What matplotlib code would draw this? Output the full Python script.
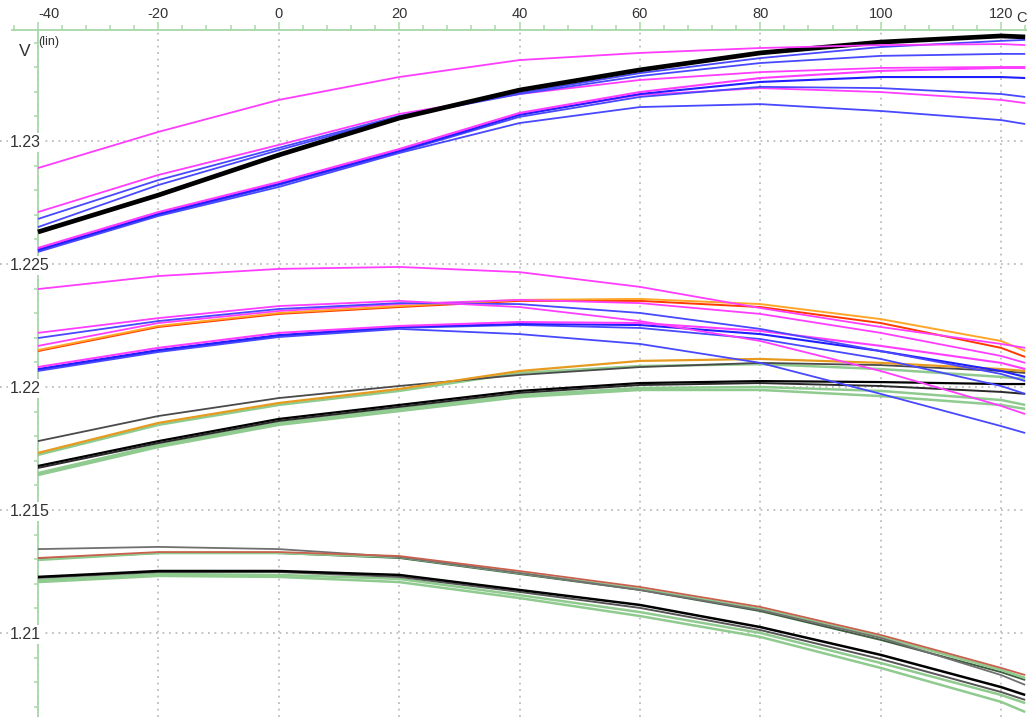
import matplotlib
matplotlib.use("Agg")
import matplotlib.pyplot as plt
from matplotlib.ticker import MultipleLocator, FixedLocator, FixedFormatter

plt.rcParams['font.family'] = ['Liberation Sans', 'DejaVu Sans']

# ---------------- data (temperature in C, voltage in V) ----------------
temps = [-40, -20, 0, 20, 40, 60, 80, 100, 120, 124]

# top group
a_mag_top  = [1.22890, 1.23037, 1.23167, 1.23260, 1.23329, 1.23358, 1.23378, 1.23390, 1.23394, 1.23390]
a_black    = [1.22630, 1.22780, 1.22943, 1.23093, 1.23207, 1.23289, 1.23358, 1.23402, 1.23427, 1.23423]
a_mag_2    = [1.22711, 1.22862, 1.22984, 1.23110, 1.23191, 1.23248, 1.23280, 1.23297, 1.23301, 1.23301]
a_blue_1   = [1.22683, 1.22841, 1.22972, 1.23102, 1.23195, 1.23276, 1.23337, 1.23382, 1.23407, 1.23411]
a_blue_2   = [1.22650, 1.22821, 1.22963, 1.23098, 1.23191, 1.23264, 1.23317, 1.23346, 1.23354, 1.23354]
a_mag_3    = [1.22565, 1.22711, 1.22833, 1.22967, 1.23114, 1.23199, 1.23256, 1.23285, 1.23297, 1.23297]
a_blue_3   = [1.22557, 1.22703, 1.22825, 1.22959, 1.23106, 1.23191, 1.23240, 1.23260, 1.23260, 1.23256]
a_blue_4   = [1.22553, 1.22699, 1.22821, 1.22955, 1.23098, 1.23179, 1.23220, 1.23215, 1.23191, 1.23179]
a_mag_4    = [1.22561, 1.22707, 1.22829, 1.22963, 1.23110, 1.23187, 1.23215, 1.23199, 1.23167, 1.23154]
a_blue_5   = [1.22549, 1.22695, 1.22813, 1.22951, 1.23073, 1.23138, 1.23150, 1.23122, 1.23085, 1.23069]

# second group
b_mag_top  = [1.22398, 1.22451, 1.22480, 1.22488, 1.22467, 1.22407, 1.22321, 1.22244, 1.22175, 1.22159]
b_mag_1    = [1.22220, 1.22280, 1.22329, 1.22350, 1.22325, 1.22268, 1.22187, 1.22065, 1.21923, 1.21890]
b_blue_1   = [1.22199, 1.22268, 1.22317, 1.22341, 1.22337, 1.22301, 1.22236, 1.22146, 1.22053, 1.22024]
b_mag_2    = [1.22167, 1.22260, 1.22309, 1.22337, 1.22354, 1.22341, 1.22297, 1.22220, 1.22126, 1.22098]
b_orange   = [1.22150, 1.22248, 1.22301, 1.22329, 1.22354, 1.22358, 1.22337, 1.22276, 1.22187, 1.22146]
b_red      = [1.22146, 1.22244, 1.22297, 1.22325, 1.22350, 1.22350, 1.22325, 1.22260, 1.22159, 1.22122]
b_mag_3    = [1.22081, 1.22159, 1.22220, 1.22248, 1.22264, 1.22260, 1.22228, 1.22167, 1.22098, 1.22073]
b_blue_2   = [1.22073, 1.22150, 1.22211, 1.22244, 1.22256, 1.22252, 1.22215, 1.22146, 1.22065, 1.22041]
b_blue_3   = [1.22069, 1.22146, 1.22207, 1.22240, 1.22252, 1.22240, 1.22195, 1.22114, 1.22004, 1.21972]
b_blue_4   = [1.22065, 1.22142, 1.22203, 1.22236, 1.22215, 1.22175, 1.22098, 1.21972, 1.21841, 1.21813]

# third group
c_gray     = [1.21780, 1.21882, 1.21955, 1.22004, 1.22049, 1.22081, 1.22098, 1.22089, 1.22065, 1.22057]
c_orange   = [1.21732, 1.21854, 1.21935, 1.21992, 1.22065, 1.22106, 1.22114, 1.22098, 1.22073, 1.22065]
c_green_1  = [1.21724, 1.21846, 1.21927, 1.21984, 1.22057, 1.22085, 1.22093, 1.22073, 1.22041, 1.22033]
c_black_1  = [1.21679, 1.21780, 1.21870, 1.21927, 1.21984, 1.22016, 1.22024, 1.22020, 1.22012, 1.22012]
c_black_2  = [1.21671, 1.21772, 1.21862, 1.21919, 1.21976, 1.22008, 1.22016, 1.22004, 1.21980, 1.21972]
c_green_2  = [1.21650, 1.21764, 1.21854, 1.21911, 1.21967, 1.21996, 1.22000, 1.21984, 1.21947, 1.21927]
c_green_3  = [1.21642, 1.21756, 1.21846, 1.21902, 1.21959, 1.21988, 1.21988, 1.21963, 1.21927, 1.21911]

# bottom group
d_gray     = [1.21341, 1.21350, 1.21341, 1.21309, 1.21244, 1.21175, 1.21093, 1.20980, 1.20829, 1.20789]
d_red      = [1.21305, 1.21329, 1.21329, 1.21313, 1.21252, 1.21187, 1.21106, 1.20992, 1.20858, 1.20829]
d_green_1  = [1.21297, 1.21325, 1.21325, 1.21309, 1.21244, 1.21179, 1.21098, 1.20984, 1.20850, 1.20817]
d_dkgreen  = [1.21301, 1.21325, 1.21325, 1.21305, 1.21240, 1.21175, 1.21089, 1.20972, 1.20841, 1.20809]
d_black    = [1.21228, 1.21252, 1.21252, 1.21236, 1.21175, 1.21114, 1.21024, 1.20911, 1.20780, 1.20748]
d_dkgray   = [1.21224, 1.21248, 1.21248, 1.21228, 1.21167, 1.21102, 1.21012, 1.20894, 1.20760, 1.20728]
d_green_2  = [1.21215, 1.21240, 1.21236, 1.21220, 1.21154, 1.21085, 1.21000, 1.20878, 1.20748, 1.20715]
d_green_3  = [1.21207, 1.21232, 1.21228, 1.21207, 1.21142, 1.21069, 1.20984, 1.20858, 1.20720, 1.20679]

xtick_values = [-40, -20, 0, 20, 40, 60, 80, 100, 120]
xtick_labels = ['-40', '-20', '0', '20', '40', '60', '80', '100', '120']
ytick_values = [1.21, 1.215, 1.22, 1.225, 1.23]
ytick_labels = ['1.21', '1.215', '1.22', '1.225', '1.23']

# ---------------- styles ----------------
MAG = '#ff3dff'
BLUE = '#4848ff'
ORANGE = '#ffa628'
RED = '#ff3a00'
GREEN = '#8fca8f'
AXGREEN = '#a8d8a8'
TXT = '#333333'

series = [
    (c_green_3, GREEN, 1.8), (c_green_2, GREEN, 1.8), (c_black_2, '#2a2a2a', 1.4),
    (c_black_1, '#000000', 1.6), (c_green_1, GREEN, 1.8), (c_gray, '#4a4a4a', 1.3),
    (c_orange, '#e69a20', 1.6),
    (d_green_3, GREEN, 1.8), (d_green_2, GREEN, 1.8), (d_dkgray, '#555555', 1.4),
    (d_black, '#000000', 1.8), (d_dkgreen, '#3e5e3e', 1.4), (d_green_1, GREEN, 1.8),
    (d_gray, '#707070', 1.3), (d_red, '#c8604e', 1.3),
    (b_blue_4, BLUE, 1.3), (b_blue_3, BLUE, 1.3), (b_blue_2, '#2020ff', 1.5),
    (b_mag_3, MAG, 1.5), (b_red, RED, 1.4), (b_orange, ORANGE, 1.4),
    (b_mag_2, MAG, 1.3), (b_blue_1, BLUE, 1.3), (b_mag_1, MAG, 1.3),
    (b_mag_top, MAG, 1.3),
    (a_blue_5, BLUE, 1.3), (a_mag_4, MAG, 1.3), (a_blue_4, BLUE, 1.3),
    (a_blue_3, '#2020ff', 1.5), (a_mag_3, MAG, 1.5),
    (a_mag_2, MAG, 1.3), (a_blue_2, BLUE, 1.3), (a_blue_1, BLUE, 1.3),
    (a_black, '#000000', 3.4), (a_mag_top, MAG, 1.3),
]

# ---------------- figure ----------------
W, H = 1027, 717
fig = plt.figure(figsize=(W / 100, H / 100), dpi=100)
ax = fig.add_axes([0, 0, 1, (H - 30) / H])

for vals, col, lw in series:
    ax.plot(temps, vals, color=col, lw=lw, zorder=3, solid_capstyle='butt',
            solid_joinstyle='round')

ax.set_xlim(-46.3, 124.3)
ax.set_ylim(1.206585, 1.234512)

for s in ['bottom', 'right']:
    ax.spines[s].set_visible(False)
ax.spines['top'].set_color(AXGREEN)
ax.spines['top'].set_linewidth(1.3)
ax.spines['top'].set_bounds(-44.3, 124.3)
ax.spines['left'].set_color(AXGREEN)
ax.spines['left'].set_linewidth(1.3)
ax.spines['left'].set_position(('data', -40))

ax.xaxis.tick_top()
ax.xaxis.set_major_locator(FixedLocator(xtick_values))
ax.xaxis.set_major_formatter(FixedFormatter(xtick_labels))
ax.xaxis.set_minor_locator(MultipleLocator(4))
ax.tick_params(axis='x', which='major', direction='out', length=6, width=1.1,
               color=AXGREEN, labelsize=10.5, labelcolor=TXT, pad=0.5)
ax.tick_params(axis='x', which='minor', direction='out', length=3.6, width=1.1,
               color=AXGREEN)
ax.xaxis.get_major_ticks()[0].label2.set_horizontalalignment('left')

ax.yaxis.set_major_locator(FixedLocator(ytick_values))
ax.yaxis.set_major_formatter(FixedFormatter(ytick_labels))
ax.yaxis.set_minor_locator(MultipleLocator(0.001))
ax.tick_params(axis='y', which='major', length=0, labelsize=11.5, labelcolor=TXT, pad=20)
ax.tick_params(axis='y', which='minor', direction='out', length=3, width=1.1, color=AXGREEN)
for lbl in ax.get_yticklabels():
    lbl.set_horizontalalignment('left')
    lbl.set_bbox(dict(facecolor='white', edgecolor='none', pad=1.5))
ax.yaxis.set_zorder(2.6)

ax.grid(True, which='major', color='#bdbdbd', linestyle=(0, (1, 2.6)), linewidth=1.3)

fig.text(25 / W, 1 - 52 / H, 'V', fontsize=12.5, color=TXT, ha='center', va='center')
fig.text(38 / W, 1 - 42 / H, '(lin)', fontsize=9, color=TXT, ha='left', va='center')
fig.text(1016 / W, 1 - 18 / H, 'C', fontsize=10.5, color=TXT, ha='left', va='center')

fig.savefig('out.png', dpi=100)
